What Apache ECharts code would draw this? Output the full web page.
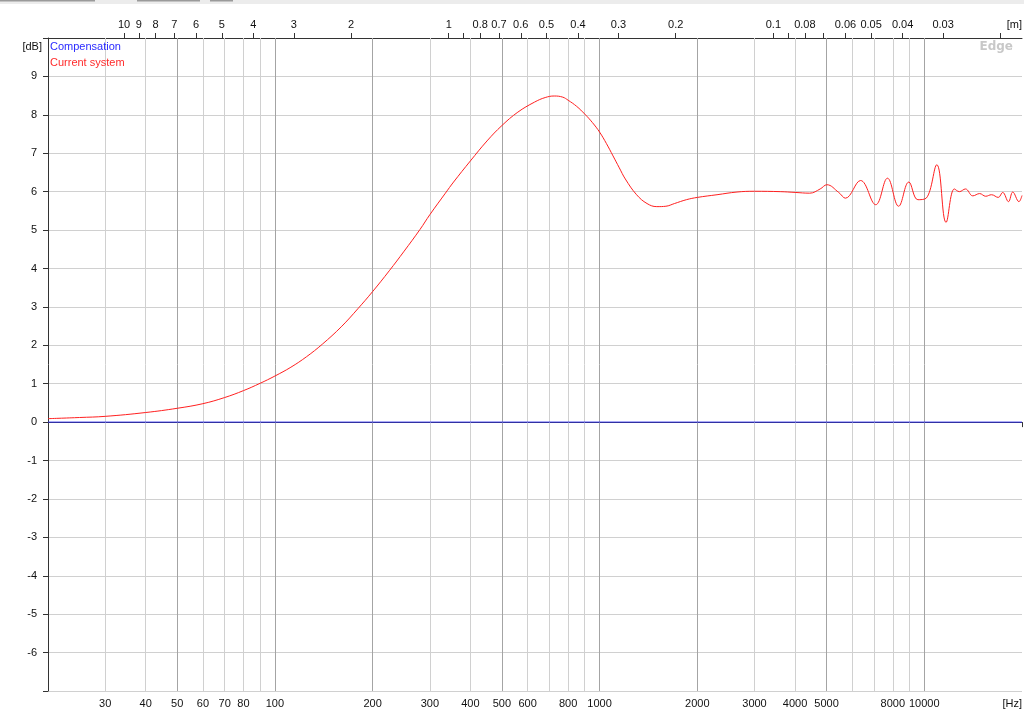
<!DOCTYPE html>
<html><head><meta charset="utf-8">
<script src="https://cdn.jsdelivr.net/npm/echarts@6/dist/echarts.min.js"></script>
<style>html,body{margin:0;padding:0;background:#fff}#c{width:1024px;height:723px}</style>
</head><body><div id="c"></div>
<script>
// ---- data ----
const freqHz = [20, 25, 30, 40, 50, 60, 70, 80, 90, 100, 112, 125, 140, 160, 180, 200, 225, 250, 280, 300, 335, 355, 400, 450, 500, 560, 630, 680, 725, 770, 800, 850, 900, 950, 1000, 1050, 1100, 1150, 1200, 1300, 1400, 1500, 1600, 1700, 1850, 2000, 2300, 2650, 3000, 3600, 4000, 4437, 4780, 5013, 5450, 5716, 6366, 7088, 7703, 8335, 8961, 9558, 10138, 10930, 11670, 12380, 12830, 13390, 14110, 14810, 15460, 16110, 16900, 17440, 18170, 18730, 19570, 20000];
const currentDb = [0.09, 0.12, 0.15, 0.25, 0.36, 0.48, 0.64, 0.82, 1.01, 1.2, 1.43, 1.70, 2.03, 2.48, 2.95, 3.40, 3.94, 4.45, 5.02, 5.40, 5.96, 6.25, 6.80, 7.32, 7.72, 8.07, 8.33, 8.45, 8.49, 8.46, 8.38, 8.22, 8.02, 7.80, 7.55, 7.25, 6.93, 6.62, 6.33, 5.92, 5.69, 5.61, 5.62, 5.69, 5.79, 5.85, 5.92, 5.99, 6.01, 6.0, 5.98, 5.96, 6.07, 6.18, 5.98, 5.83, 6.29, 5.66, 6.35, 5.62, 6.25, 5.79, 5.83, 6.70, 5.20, 6.07, 6.0, 6.07, 5.89, 5.95, 5.88, 5.92, 5.85, 5.98, 5.74, 5.99, 5.74, 5.9];
const compensationFreq = [20, 20000];
const compensationDb = [0, 0];

const freqTicks = [30, 40, 50, 60, 70, 80, 90, 100, 200, 300, 400, 500, 600, 700, 800, 900, 1000, 2000, 3000, 4000, 5000, 6000, 7000, 8000, 9000, 10000, 20000];
const freqLabels = [30, 40, 50, 60, 70, 80, 100, 200, 300, 400, 500, 600, 800, 1000, 2000, 3000, 4000, 5000, 8000, 10000];
const freqGridMajor = [50, 100, 200, 500, 1000, 2000, 5000, 10000];
const freqGridMinor = [30, 40, 60, 70, 80, 90, 300, 400, 600, 700, 800, 900, 3000, 4000, 6000, 7000, 8000, 9000];
const wavelengthTicks = [10, 9, 8, 7, 6, 5, 4, 3, 2, 1, 0.9, 0.8, 0.7, 0.6, 0.5, 0.4, 0.3, 0.2, 0.1, 0.09, 0.08, 0.07, 0.06, 0.05, 0.04, 0.03, 0.02];
const wavelengthLabels = [10, 9, 8, 7, 6, 5, 4, 3, 2, 1, 0.8, 0.7, 0.6, 0.5, 0.4, 0.3, 0.2, 0.1, 0.08, 0.06, 0.05, 0.04, 0.03];
const dbMin = -7, dbMax = 10;
const soundSpeed = 343;

const FONT = 'Liberation Sans';
const chart = echarts.init(document.getElementById('c'), null, {renderer: 'canvas'});

const currentData = freqHz.map((f, i) => [f, currentDb[i]]);
const compData = compensationFreq.map((f, i) => [f, compensationDb[i]]);

const gridLines = freqGridMinor.map(f => ({xAxis: f, lineStyle: {color: '#d0d0d0', width: 1, type: 'solid'}}))
  .concat(freqGridMajor.map(f => ({xAxis: f, lineStyle: {color: '#a4a4a4', width: 1, type: 'solid'}})));

chart.setOption({
  animation: false,
  backgroundColor: '#ffffff',
  grid: {left: 48, right: 2, top: 38, bottom: 32, containLabel: false},
  legend: {
    orient: 'vertical', left: 45, top: 41, icon: 'none', itemWidth: 0, itemHeight: 10, itemGap: 5, padding: 0,
    textStyle: {fontFamily: FONT, fontSize: 11},
    data: [
      {name: 'Compensation', textStyle: {color: '#2a2aff'}},
      {name: 'Current system', textStyle: {color: '#ff2a2a'}}
    ],
    selectedMode: false
  },
  xAxis: [
    {
      type: 'log', logBase: 10, min: 20, max: 20000, position: 'bottom',
      axisLine: {show: true, lineStyle: {color: '#333', width: 1}},
      axisTick: {show: true, inside: false, length: 5, customValues: freqTicks, lineStyle: {color: '#333'}},
      axisLabel: {customValues: freqLabels, margin: 7, fontFamily: FONT, fontSize: 11, color: '#111',
        formatter: v => String(Math.round(v))},
      splitLine: {show: false}, minorTick: {show: false}, minorSplitLine: {show: false}
    },
    {
      type: 'log', logBase: 10, min: soundSpeed / 20000, max: soundSpeed / 20, inverse: true, position: 'top',
      axisLine: {show: true, lineStyle: {color: '#333', width: 1}},
      axisTick: {show: true, inside: false, length: 5, customValues: wavelengthTicks, lineStyle: {color: '#333'}},
      axisLabel: {customValues: wavelengthLabels, margin: 8, fontFamily: FONT, fontSize: 11, color: '#111',
        formatter: v => String(Math.round(v * 1000) / 1000)},
      splitLine: {show: false}, minorTick: {show: false}, minorSplitLine: {show: false}
    }
  ],
  yAxis: {
    type: 'value', min: dbMin, max: dbMax, interval: 1,
    axisLine: {show: true, lineStyle: {color: '#333', width: 1}},
    axisTick: {show: true, inside: false, length: 5, lineStyle: {color: '#333'}},
    axisLabel: {margin: 11, fontFamily: FONT, fontSize: 11, color: '#111',
      formatter: v => (v === dbMin || v === dbMax) ? '' : String(v)},
    splitLine: {show: true, lineStyle: {color: '#d0d0d0', width: 1}}
  },
  series: [
    {
      name: 'Compensation', type: 'line', xAxisIndex: 0, data: compData, symbol: 'none',
      lineStyle: {color: '#3030ee', width: 1}, itemStyle: {color: '#3030ee'}, z: 3,
      markLine: {silent: true, symbol: ['none', 'none'], label: {show: false}, z: 1, animation: false, data: gridLines}
    },
    {
      name: 'Current system', type: 'line', xAxisIndex: 0, data: currentData, symbol: 'none', smooth: 0.4,
      lineStyle: {color: '#ff2020', width: 1}, itemStyle: {color: '#ff2020'}, z: 4
    }
  ],
  graphic: [
    {type: 'rect', left: 0, top: 0, shape: {width: 1024, height: 4}, style: {fill: '#ececec'}, silent: true},
    {type: 'rect', left: 0, top: 0, shape: {width: 95, height: 1.5}, style: {fill: '#9a9a9a'}, silent: true},
    {type: 'rect', left: 137, top: 0, shape: {width: 63, height: 1.5}, style: {fill: '#9a9a9a'}, silent: true},
    {type: 'rect', left: 210, top: 0, shape: {width: 23, height: 1.5}, style: {fill: '#9a9a9a'}, silent: true},
    {type: 'text', right: 982, top: 41, style: {text: '[dB]', fontFamily: FONT, fontSize: 11, fill: '#111', textAlign: 'right'}},
    {type: 'text', right: 2, top: 698, style: {text: '[Hz]', fontFamily: FONT, fontSize: 11, fill: '#111', textAlign: 'right'}},
    {type: 'text', right: 2, top: 19, style: {text: '[m]', fontFamily: FONT, fontSize: 11, fill: '#111', textAlign: 'right'}},
    {type: 'text', right: 11, top: 41, style: {text: 'Edge', fontFamily: 'DejaVu Sans', fontWeight: 'bold', fontSize: 12, fill: '#c8c8c8', textAlign: 'right'}}
  ]
});
</script>
</body></html>
